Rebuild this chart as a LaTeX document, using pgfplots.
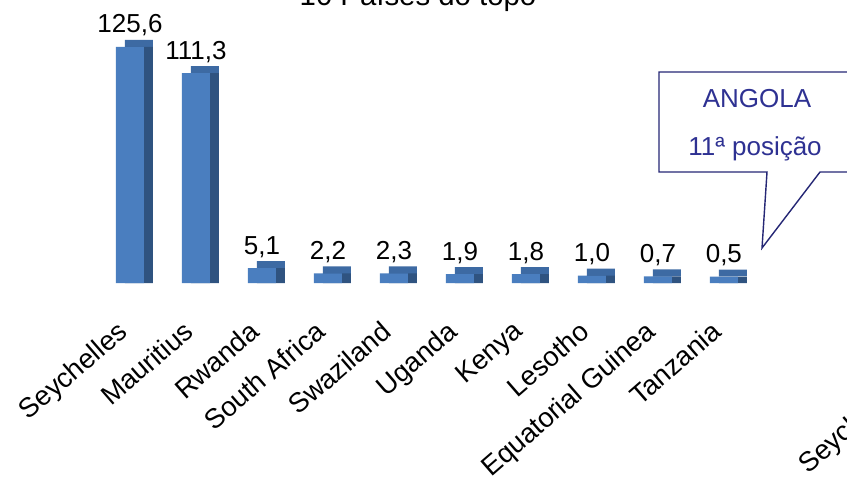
\documentclass[border=0pt]{standalone}
\usepackage{pgfplots}
\pgfplotsset{compat=1.18}
\usepackage{fontspec}
\setmainfont{Liberation Sans}

\definecolor{barfront}{HTML}{4A7EBF}
\definecolor{bartop}{HTML}{3D6AA3}
\definecolor{barside}{HTML}{2F5380}
\definecolor{calloutblue}{HTML}{2E3192}

% Top ten countries
\pgfplotstableread{
x value
0 125.6
1 111.3
2 5.1
3 2.2
4 2.3
5 1.9
6 1.8
7 1.0
8 0.7
9 0.5
}\topten

\newcommand{\lblfont}{\fontsize{14.8}{17}\selectfont}
\newcommand{\catfont}{\fontsize{15.6}{18}\selectfont}

\begin{document}
\begin{tikzpicture}
\begin{axis}[
  at={(1.94cm,4.36cm)}, anchor=south west,
  scale only axis,
  width=13.2cm, height=5.66cm,
  xmin=-0.5, xmax=9.5, ymin=0, ymax=154,
  clip=false,
  axis line style={draw=none},
  tick style={draw=none},
  ytick=\empty,
  xtick=data,
  xticklabels={Seychelles,Mauritius,Rwanda,South Africa,Swaziland,Uganda,Kenya,Lesotho,Equatorial Guinea,Tanzania},
  xticklabel style={xshift=-0.28cm, yshift=-0.56cm, rotate=41, anchor=north east, font=\catfont, inner sep=0pt},
  ybar, bar width=0.56cm,
  % floor of the 3-D columns
  y filter/.expression={y+3},
  /pgf/number format/.cd, fixed, fixed zerofill, precision=1, use comma, assume math mode=true,
]
% top face
\addplot[draw=none, fill=bartop, bar shift=0.18cm, yshift=0.14cm] table[x=x,y=value] {\topten};
% side face
\addplot[draw=none, fill=barside, bar shift=0.18cm] table[x=x,y=value] {\topten};
% front face with value labels
\addplot[draw=none, fill=barfront, bar shift=0pt,
  point meta=rawy,
  nodes near coords,
  every node near coord/.append style={font=\lblfont, text=black, anchor=base, yshift=0.28cm, inner sep=0pt}]
  table[x=x,y=value] {\topten};
\end{axis}

\begin{scope}[x=0.02cm,y=0.02cm]
% title
\node[anchor=base, font=\fontsize{16.7}{19}\selectfont] at (418,495) {10 Países do topo};

% callout
\draw[draw=calloutblue!80!black, line width=0.8pt, fill=white]
  (659,329) -- (659,429) -- (880,429) -- (880,329) -- (820,329)
  -- (762,253) -- (767,329) -- cycle;
\node[anchor=base, text=calloutblue, font=\lblfont] at (757,394) {ANGOLA};
\node[anchor=base, text=calloutblue, font=\lblfont] at (755,346) {11ª posição};

% next slide label, partly out of view
\node[anchor=base west, rotate=41, font=\catfont, inner sep=0pt] at (808,26) {Seychelles};

\pgfresetboundingbox
\useasboundingbox (0,0) rectangle (847,501);
\end{scope}
\end{tikzpicture}
\end{document}
